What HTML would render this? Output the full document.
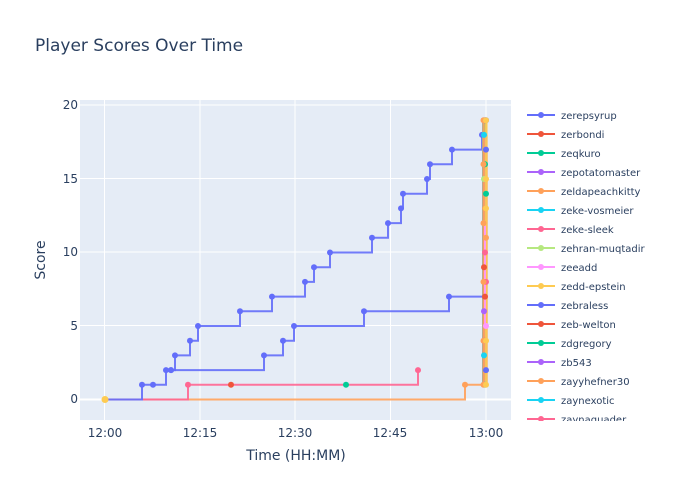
<!DOCTYPE html>
<html><head><meta charset="utf-8"><style>
body{margin:0;background:#fff;}
svg{display:block;font-family:"DejaVu Sans","Liberation Sans",sans-serif;}
</style></head><body>
<svg id="s" width="700" height="500" xmlns="http://www.w3.org/2000/svg">
<rect width="700" height="500" fill="#fff"/>
<text x="35" y="51" font-size="17" fill="#2a3f5f">Player Scores Over Time</text>
<rect x="80" y="100" width="431" height="320" fill="#e5ecf6"/>
<g stroke="#fff" stroke-width="1">
<line x1="80" x2="511" y1="105" y2="105"/><line x1="80" x2="511" y1="178.5" y2="178.5"/>
<line x1="80" x2="511" y1="252" y2="252"/><line x1="80" x2="511" y1="325.5" y2="325.5"/>
<line x1="104.5" x2="104.5" y1="100" y2="420"/><line x1="200" x2="200" y1="100" y2="420"/>
<line x1="295" x2="295" y1="100" y2="420"/><line x1="390.5" x2="390.5" y1="100" y2="420"/>
<line x1="486" x2="486" y1="100" y2="420"/>
</g>
<line x1="80" x2="511" y1="399.5" y2="399.5" stroke="#fff" stroke-width="2"/>
<g font-size="12" fill="#2a3f5f" text-anchor="end">
<text x="78" y="109">20</text><text x="78" y="183">15</text><text x="78" y="256">10</text>
<text x="78" y="330">5</text><text x="78" y="403">0</text>
</g>
<g font-size="12" fill="#2a3f5f" text-anchor="middle">
<text x="105" y="437">12:00</text><text x="200" y="437">12:15</text><text x="295" y="437">12:30</text>
<text x="390" y="437">12:45</text><text x="486" y="437">13:00</text>
<text x="296" y="460" font-size="14">Time (HH:MM)</text>
</g>
<text x="45" y="260" font-size="14" fill="#2a3f5f" text-anchor="middle" transform="rotate(-90 45 260)">Score</text>
<g id="plot"></g>
<g font-size="10" fill="#2a3f5f">
<text x="561" y="119">zerepsyrup</text><text x="561" y="138">zerbondi</text>
<text x="561" y="157">zeqkuro</text><text x="561" y="176">zepotatomaster</text>
<text x="561" y="195">zeldapeachkitty</text><text x="561" y="214">zeke-vosmeier</text>
<text x="561" y="233">zeke-sleek</text><text x="561" y="252">zehran-muqtadir</text>
<text x="561" y="271">zeeadd</text><text x="561" y="290">zedd-epstein</text>
<text x="561" y="309">zebraless</text><text x="561" y="328">zeb-welton</text>
<text x="561" y="347">zdgregory</text><text x="561" y="366">zb543</text>
<text x="561" y="385">zayyhefner30</text><text x="561" y="404">zaynexotic</text>
<text x="561" y="423">zaynaquader</text>
</g>
<g id="leg"></g>
<rect x="520" y="421" width="180" height="24" fill="#fff"/>
</svg>
<script>
var C=["#636efa","#ef553b","#00cc96","#ab63fa","#ffa15a","#19d3f3","#ff6692","#b6e880","#ff97ff","#fecb52","#636efa","#ef553b","#00cc96","#ab63fa","#ffa15a","#19d3f3","#ff6692"];
var ns="http://www.w3.org/2000/svg",P=document.getElementById("plot"),L=document.getElementById("leg");
function Y(v){return 399.5-14.7*v;}
function el(p,t,a){var e=document.createElementNS(ns,t);for(var k in a)e.setAttribute(k,a[k]);p.appendChild(e);return e;}
function series(pts,col,mark){var d="M"+pts[0][0]+","+Y(pts[0][1]);for(var i=1;i<pts.length;i++){d+="H"+pts[i][0]+"V"+Y(pts[i][1]);}
el(P,"path",{d:d,fill:"none",stroke:col,"stroke-width":2,opacity:0.9});
pts.forEach(function(p,i){if(mark===undefined||mark.indexOf(i)>=0)el(P,"circle",{cx:p[0],cy:Y(p[1]),r:3,fill:col});});}
series([[105,0],[465,0],[465,1],[484,1],[484,19]],"#ffa15a",[2]);
series([[105,0],[188,0],[188,1],[231,1],[346,1],[418,1],[418,2]],"#ff6692",[2,6]);
el(P,"circle",{cx:231,cy:Y(1),r:3,fill:"#ef553b"});el(P,"circle",{cx:346,cy:Y(1),r:3,fill:"#00cc96"});
series([[105,0],[142,0],[142,1],[153,1],[166,2],[175,3],[190,4],[198,5],[240,6],[272,7],[305,8],[314,9],[330,10],[372,11],[388,12],[401,13],[403,14],[427,15],[430,16],[452,17],[482,18],[486,19]],"#636efa",[2,3,4,5,6,7,8,9,10,11,12,13,14,15,16,17,18,19,20,21]);
series([[171,2],[264,3],[283,4],[294,5],[364,6],[449,7],[486,7]],"#636efa",[0,1,2,3,4,5]);
el(P,"circle",{cx:171,cy:Y(2),r:3,fill:"#636efa"});
var i;for(i=0;i<17;i++){var x=483+(i%5)*0.9;el(P,"line",{x1:x,x2:x,y1:Y(1),y2:Y(19-(i%3)),stroke:C[i],"stroke-width":2,opacity:0.8});}
el(P,"line",{x1:483.5,x2:483.5,y1:Y(1),y2:Y(19),stroke:"#ffa15a","stroke-width":2.5,opacity:0.9});
el(P,"line",{x1:486,x2:486,y1:Y(1),y2:Y(19),stroke:"#fecb52","stroke-width":2.5,opacity:0.9});
el(P,"line",{x1:485,x2:485,y1:Y(5),y2:Y(12),stroke:"#ff97ff","stroke-width":2,opacity:0.9});
for(var v=1;v<=19;v++){el(P,"circle",{cx:484+(v%3),cy:Y(v),r:3,fill:C[(v*5)%17]});}
[1,4,8,12,16,19].forEach(function(v){el(P,"circle",{cx:483.5,cy:Y(v),r:3,fill:"#ffa15a"});});
[1,4,13,15,19].forEach(function(v){el(P,"circle",{cx:486,cy:Y(v),r:3,fill:"#fecb52"});});
el(P,"circle",{cx:105,cy:399.5,r:3.5,fill:"#fecb52"});
for(i=0;i<17;i++){var y=115+19*i;el(L,"line",{x1:527,x2:555,y1:y,y2:y,stroke:C[i],"stroke-width":2});el(L,"circle",{cx:541,cy:y,r:3,fill:C[i]});}
</script>
</body></html>
